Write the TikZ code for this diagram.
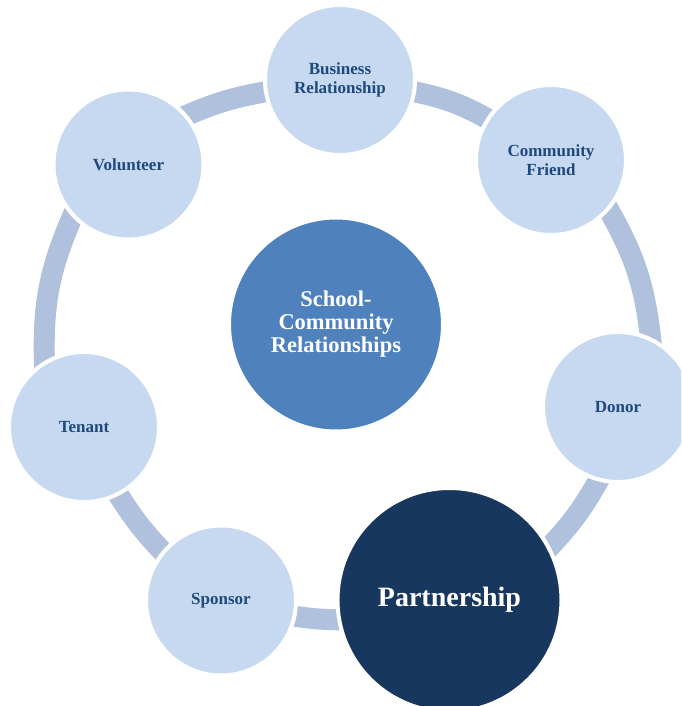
\documentclass[tikz,border=0pt]{standalone}
\usepackage{fontspec}
\setmainfont{Liberation Serif}
\usetikzlibrary{backgrounds}
\definecolor{ringband}{HTML}{B0C1DD}
\definecolor{lightcirc}{HTML}{C6D9F0}
\definecolor{midcirc}{HTML}{4F81BD}
\definecolor{darkcirc}{HTML}{17375E}
\definecolor{labeltext}{HTML}{1F497D}
\begin{document}
\begin{tikzpicture}[x=1pt,y=1pt,
  bubble/.style={circle, fill=lightcirc, draw=white, line width=4pt, minimum size=150pt, inner sep=0pt, align=center, text=labeltext, font=\bfseries\fontsize{17}{18.5}\selectfont},
  hub/.style={circle, fill=midcirc, draw=white, line width=4pt, minimum size=214pt, inner sep=0pt, align=center, text=white, font=\bfseries\fontsize{22.5}{23}\selectfont},
  focus/.style={circle, fill=darkcirc, draw=white, line width=4pt, minimum size=224pt, inner sep=0pt, align=center, text=white, font=\bfseries\fontsize{28}{30}\selectfont},
  band/.style={draw=ringband, line width=21pt, line cap=butt, shorten <=-8pt, shorten >=-8pt}]
\useasboundingbox (0,0) rectangle (681,706);
\clip (0,0) rectangle (681,706);
\node[bubble] (bu) at (340,626) {Business\\Relationship};
\node[bubble] (cf) at (551,546) {Community\\Friend};
\node[bubble] (dn) at (618,299) {Donor};
\node[focus] (pa) at (449.5,106) {Partnership};
\node[bubble] (sp) at (221,105.5) {Sponsor};
\node[bubble] (te) at (84,279) {Tenant};
\node[bubble] (vo) at (128.5,541.5) {Volunteer};
\node[hub] (hub) at (336,381.5) {School-\\Community\\Relationships};
\begin{scope}[on background layer]
\fill[white] (0,0) rectangle (681,706);
\draw[band] (vo.40) to[bend left=7] (bu.189);
\draw[band] (bu.351) to[bend left=9] (cf.147);
\draw[band] (cf.319) to[bend left=12] (dn.65);
\draw[band] (dn.255) to[bend left=7] (pa.28);
\draw[band] (pa.190) to[bend left=4] (sp.348);
\draw[band] (sp.140) to[bend left=6] (te.297);
\draw[band] (te.121) to[bend left=13] (vo.223);
\end{scope}
\end{tikzpicture}
\end{document}
